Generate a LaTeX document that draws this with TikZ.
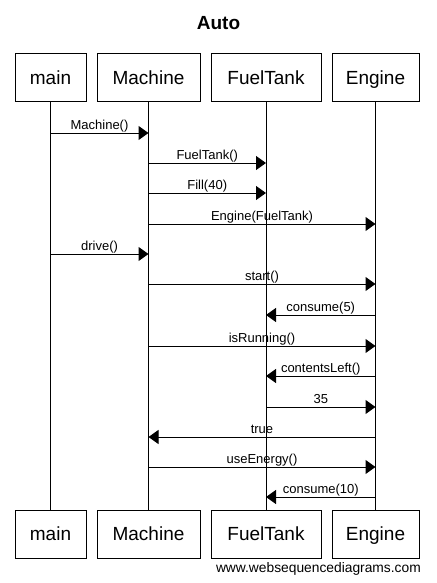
\documentclass[tikz,border=0pt]{standalone}
\usepackage{fontspec}
\setmainfont{Liberation Sans}
\usetikzlibrary{arrows.meta}
\begin{document}
\begin{tikzpicture}[x=1pt,y=-1pt,
  actor/.style={draw,line width=1pt,minimum width=#1,minimum height=48pt,inner sep=0pt,
    text height=13.6pt,text depth=0pt,font=\fontsize{19}{22}\selectfont},
  life/.style={line width=1pt},
  msg/.style={line width=1pt,-{Triangle[length=10pt,width=14pt]}},
  lbl/.style={font=\fontsize{13}{15}\selectfont,anchor=base,inner sep=0pt,yshift=4pt}]
\useasboundingbox (0,0) rectangle (436,583);
\node[font=\bfseries\fontsize{19}{22}\selectfont,anchor=base,inner sep=0pt] (title) at (218.5,29.5) {Auto};
% participants
\node[actor=71pt]  (mainT) at (50.5,77.5) {main};
\node[actor=103pt] (machT) at (148.5,77.5) {Machine};
\node[actor=110pt] (fuelT) at (266,77.5) {FuelTank};
\node[actor=87pt]  (engT)  at (375.5,77.5) {Engine};
\node[actor=71pt]  (mainB) at (50.5,534) {main};
\node[actor=103pt] (machB) at (148.5,534) {Machine};
\node[actor=110pt] (fuelB) at (266,534) {FuelTank};
\node[actor=87pt]  (engB)  at (375.5,534) {Engine};
% lifelines
\draw[life] (mainT.south) -- (mainB.north);
\draw[life] (machT.south) -- (machB.north);
\draw[life] (fuelT.south) -- (fuelB.north);
\draw[life] (engT.south) -- (engB.north);
% messages
\foreach \f/\t/\y/\l [count=\i] in {
  mainT/machT/133/Machine(),
  machT/fuelT/163/FuelTank(),
  machT/fuelT/193/Fill(40),
  machT/engT/224/Engine(FuelTank),
  mainT/machT/254/drive(),
  machT/engT/284/start(),
  engT/fuelT/315/consume(5),
  machT/engT/346/isRunning(),
  engT/fuelT/376/contentsLeft(),
  fuelT/engT/407/35,
  engT/machT/437/true,
  machT/engT/467/useEnergy(),
  engT/fuelT/497/consume(10)}{
  \coordinate (s\i) at (\f.south |- 0,\y);
  \coordinate (e\i) at (\t.south |- 0,\y);
  \draw[msg] (s\i) -- (e\i) node[lbl,midway] {\l};
}
\node[font=\fontsize{13.8}{16}\selectfont,anchor=base east,inner sep=0pt] (footer) at (421,572.5) {www.websequencediagrams.com};
\end{tikzpicture}
\end{document}
